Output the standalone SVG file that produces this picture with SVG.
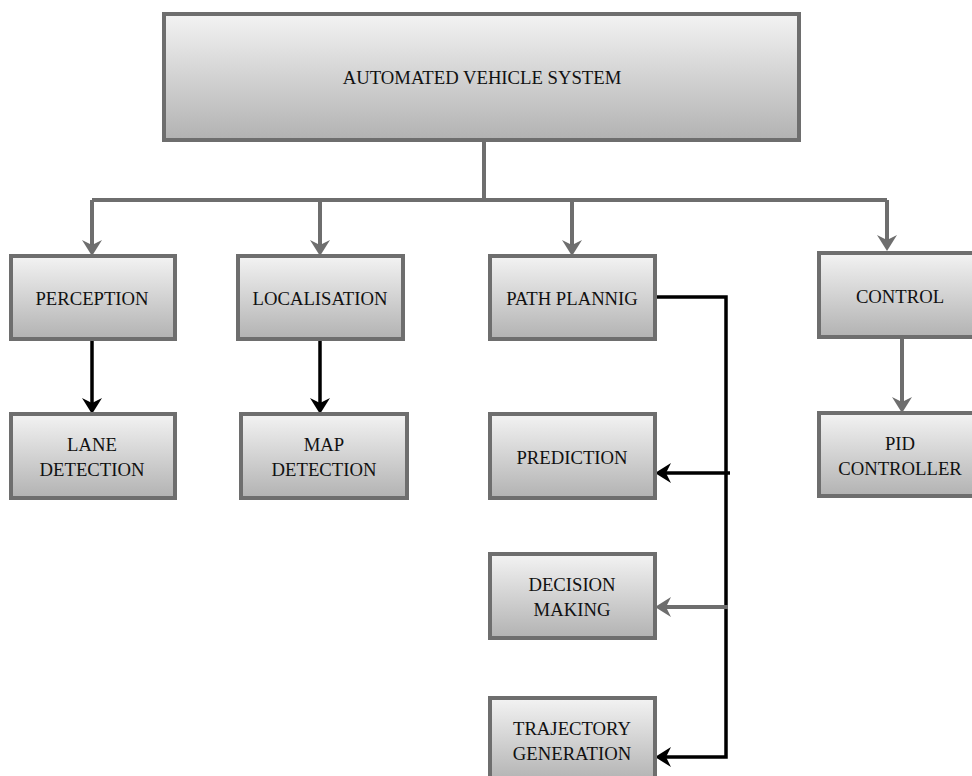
<svg xmlns="http://www.w3.org/2000/svg" width="972" height="776" viewBox="0 0 972 776">
<defs>
<linearGradient id="g" x1="0" y1="0" x2="0" y2="1">
<stop offset="0" stop-color="#f3f3f3"/>
<stop offset="1" stop-color="#b2b2b2"/>
</linearGradient>
<marker id="ag" viewBox="0 0 16 20" refX="8" refY="10" markerWidth="16" markerHeight="20" markerUnits="userSpaceOnUse" orient="auto">
<path d="M0,0 L16,10 L0,20 L5,10 z" fill="#6e6e6e"/>
</marker>
<marker id="ab" viewBox="0 0 16 20" refX="8" refY="10" markerWidth="16" markerHeight="20" markerUnits="userSpaceOnUse" orient="auto">
<path d="M0,0 L16,10 L0,20 L5,10 z" fill="#000"/>
</marker>
</defs>
<style>
.box{fill:url(#g);stroke:#6e6e6e;stroke-width:4}
.t{font-family:"Liberation Serif","Times New Roman",serif;font-size:18.7px;fill:#111;text-anchor:middle}
.cg{fill:none;stroke:#6e6e6e;stroke-width:4}
.cb{fill:none;stroke:#000;stroke-width:3.5}
</style>
<g id="connectors">
<path class="cg" d="M484,140 V200 M92,200 H887"/>
<path class="cg" d="M92,200 V248" marker-end="url(#ag)"/>
<path class="cg" d="M320,200 V248" marker-end="url(#ag)"/>
<path class="cg" d="M572,200 V248" marker-end="url(#ag)"/>
<path class="cg" d="M887,200 V243" marker-end="url(#ag)"/>
<path class="cg" d="M902,337 V405" marker-end="url(#ag)"/>
<path class="cb" d="M92,339 V406" marker-end="url(#ab)"/>
<path class="cb" d="M320,339 V406" marker-end="url(#ab)"/>
<path class="cb" d="M655,297 H726 V757 H663" marker-end="url(#ab)"/>
<path class="cb" d="M730,473 H663" marker-end="url(#ab)"/>
<path class="cg" d="M728,607 H663" marker-end="url(#ag)"/>
</g>
<g id="main"><rect class="box" x="164" y="14" width="635" height="126"/><text class="t" x="482" y="84">AUTOMATED VEHICLE SYSTEM</text></g>
<g id="perception"><rect class="box" x="11" y="256" width="164" height="83"/><text class="t" x="92" y="305">PERCEPTION</text></g>
<g id="localisation"><rect class="box" x="238" y="256" width="165" height="83"/><text class="t" x="320" y="305">LOCALISATION</text></g>
<g id="pathplanning"><rect class="box" x="490" y="256" width="165" height="83"/><text class="t" x="572" y="305">PATH PLANNIG</text></g>
<g id="control"><rect class="box" x="819" y="253" width="166" height="84"/><text class="t" x="900" y="303">CONTROL</text></g>
<g id="lane"><rect class="box" x="11" y="414" width="164" height="84"/><text class="t" x="92" y="451">LANE</text><text class="t" x="92" y="476">DETECTION</text></g>
<g id="map"><rect class="box" x="241" y="414" width="166" height="84"/><text class="t" x="324" y="451">MAP</text><text class="t" x="324" y="476">DETECTION</text></g>
<g id="prediction"><rect class="box" x="490" y="414" width="165" height="84"/><text class="t" x="572" y="464">PREDICTION</text></g>
<g id="pid"><rect class="box" x="819" y="413" width="166" height="83"/><text class="t" x="900" y="450">PID</text><text class="t" x="900" y="475">CONTROLLER</text></g>
<g id="decision"><rect class="box" x="490" y="554" width="165" height="84"/><text class="t" x="572" y="591">DECISION</text><text class="t" x="572" y="616">MAKING</text></g>
<g id="trajectory"><rect class="box" x="490" y="698" width="165" height="84"/><text class="t" x="572" y="735">TRAJECTORY</text><text class="t" x="572" y="760">GENERATION</text></g>
</svg>
